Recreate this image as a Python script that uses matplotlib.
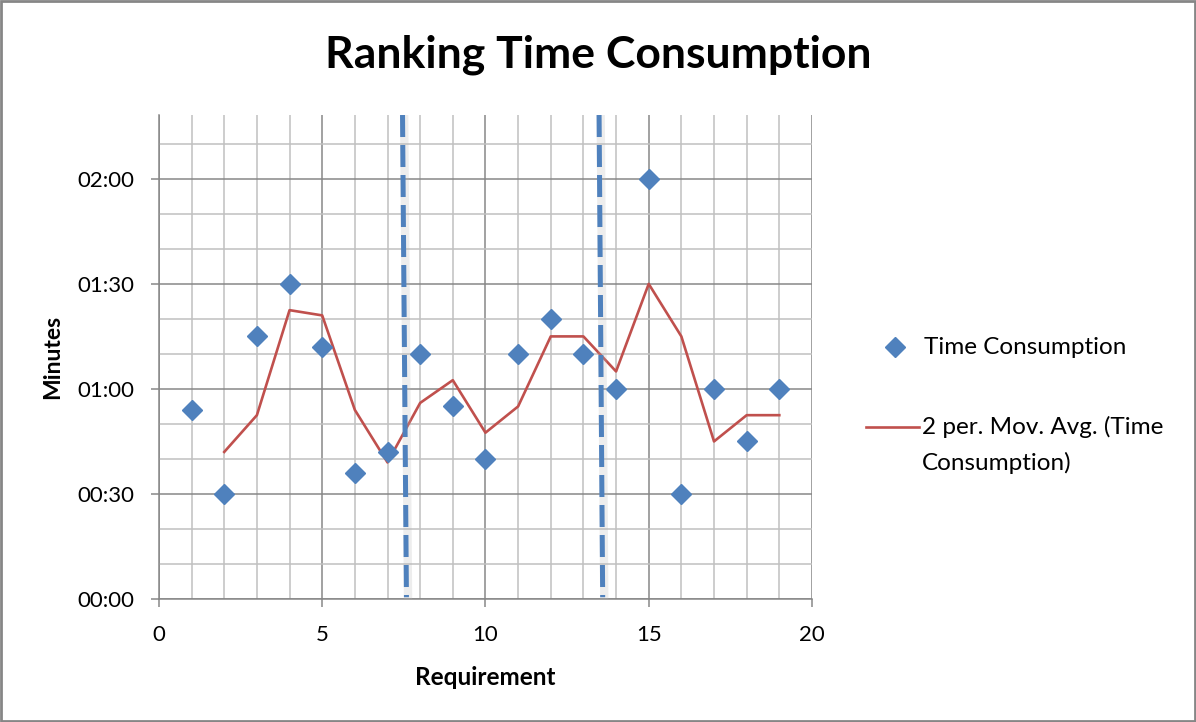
import matplotlib
matplotlib.use("Agg")
import matplotlib.pyplot as plt
import numpy as np
import pandas as pd
from matplotlib.lines import Line2D
from matplotlib.patches import Rectangle
from matplotlib.ticker import FuncFormatter, MultipleLocator

plt.rcParams["font.family"] = ["Lato", "DejaVu Sans"]

# ranking time per requirement, in seconds
requirements = list(range(1, 20))
seconds = [54, 30, 75, 90, 72, 36, 42, 70, 55, 40, 70, 80, 70, 60, 120, 30, 60, 45, 60]

# hand-drawn phase dividers (x at top, x at bottom)
divider_top = [7.46, 13.48]
divider_bottom = [7.58, 13.59]

BLUE = "#4F81BD"
RED = "#C0504D"
MAJOR = "#878787"
MINOR = "#C0C0C0"

moving_avg = pd.Series(seconds).rolling(2).mean()

fig = plt.figure(figsize=(11.96, 7.22), dpi=100)
ax = fig.add_axes([0.1329, 0.1704, 0.6789 - 0.1329, 0.8407 - 0.1704])

ax.set_xlim(0, 20)
ax.set_ylim(0, 138.24)

ax.xaxis.set_major_locator(MultipleLocator(5))
ax.xaxis.set_minor_locator(MultipleLocator(1))
ax.yaxis.set_major_locator(MultipleLocator(30))
ax.yaxis.set_minor_locator(MultipleLocator(10))
ax.yaxis.set_major_formatter(FuncFormatter(lambda v, _: f"{int(v) // 60:02d}:{int(v) % 60:02d}"))

ax.grid(which="minor", color=MINOR, linewidth=1.1, zorder=0)
ax.grid(which="major", color=MAJOR, linewidth=1.1, zorder=0)
ax.set_axisbelow(True)

for side in ("top", "right"):
    ax.spines[side].set_visible(False)
for side in ("left", "bottom"):
    ax.spines[side].set_color(MAJOR)
    ax.spines[side].set_linewidth(1.1)

ax.tick_params(which="major", direction="out", length=6, width=1.1, color=MAJOR,
               labelsize=16)
ax.tick_params(which="minor", length=0)
ax.tick_params(axis="x", pad=13)
ax.tick_params(axis="y", pad=12)

ax.plot(requirements, moving_avg, color=RED, linewidth=1.9, zorder=3)
ax.plot(requirements, seconds, linestyle="none", marker="D", markersize=10.2,
        color=BLUE, markeredgecolor=BLUE, zorder=4)

y0, y1 = ax.get_ylim()
for xt, xb in zip(divider_top, divider_bottom):
    ax.plot([xt + 0.05, xb + 0.05], [y1, y0 - 1], color="#B8B8B8", linewidth=6,
            alpha=0.25, solid_capstyle="butt", zorder=4)
    ax.plot([xt, xb], [y1, y0 + 0.5], color=BLUE, linewidth=3.6,
            dashes=(4.4, 1.6), zorder=5)

ax.set_xlabel("Requirement", fontsize=17.5, fontweight="bold", labelpad=15)
ax.set_ylabel("Minutes", fontsize=16.5, fontweight="bold", labelpad=10)

fig.suptitle("Ranking Time Consumption", fontsize=32, fontweight="bold", y=0.952)

# legend drawn at figure level
legend_size = 17.5
fig.add_artist(Line2D([895 / 1196], [1 - 347 / 722], marker="D", markersize=10.2,
                      color=BLUE, linestyle="none", transform=fig.transFigure))
fig.text(924 / 1196, 1 - 347 / 722, "Time Consumption", fontsize=legend_size,
         va="center", ha="left")
fig.add_artist(Line2D([866 / 1196, 919 / 1196], [1 - 427 / 722] * 2, color=RED,
                      linewidth=1.9, transform=fig.transFigure))
fig.text(922 / 1196, 1 - 427 / 722, "2 per. Mov. Avg. (Time", fontsize=legend_size,
         va="center", ha="left")
fig.text(922 / 1196, 1 - 463 / 722, "Consumption)", fontsize=legend_size,
         va="center", ha="left")

fig.add_artist(Rectangle((0.001, 0.001), 0.998, 0.997, transform=fig.transFigure,
                         fill=False, edgecolor="#868686", linewidth=2))

fig.savefig("out.png", dpi=100)
